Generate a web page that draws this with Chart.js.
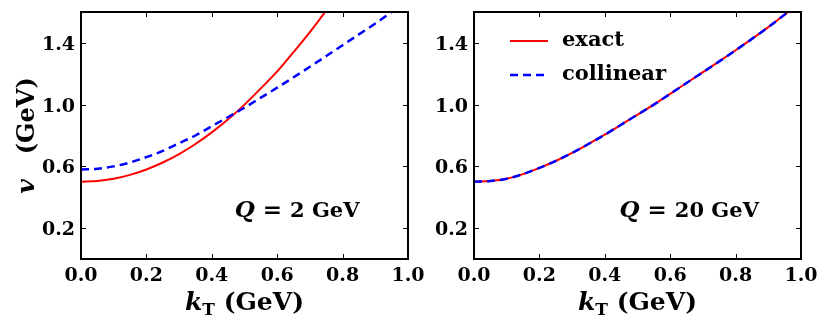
<!DOCTYPE html>
<html>
<head>
<meta charset="utf-8">
<script src="https://cdn.jsdelivr.net/npm/chart.js@4.4.1/dist/chart.umd.min.js"></script>
<style>
  html, body { margin: 0; padding: 0; background: #fff; }
  #wrap { position: relative; width: 830px; height: 332px; overflow: hidden; }
  canvas { position: absolute; top: 0; }
  #left  { left: 0; }
  #right { left: 415px; }
</style>
</head>
<body>
<div id="wrap">
  <canvas id="left" width="440" height="332"></canvas>
  <canvas id="right" width="415" height="332"></canvas>
</div>
<script>
// kT grid (GeV)
const kt = [0.00, 0.05, 0.10, 0.15, 0.20, 0.25, 0.30, 0.35, 0.40, 0.45, 0.50,
            0.55, 0.60, 0.65, 0.70, 0.75, 0.80, 0.85, 0.90, 0.95, 1.00];

// Q = 2 GeV
const exactQ2     = [0.50, 0.505, 0.52, 0.545, 0.58, 0.625, 0.68, 0.745, 0.82, 0.905, 1.00,
                     1.105, 1.215, 1.34, 1.47, 1.61, 1.76];
const collinearQ2 = [0.58, 0.585, 0.60, 0.625, 0.66, 0.70, 0.75, 0.80, 0.86, 0.92, 0.98,
                     1.045, 1.11, 1.177, 1.245, 1.315, 1.385, 1.455, 1.525, 1.60, 1.67];

// Q = 20 GeV
const exactQ20     = [0.50, 0.505, 0.52, 0.55, 0.59, 0.635, 0.687, 0.745, 0.805, 0.87, 0.935,
                      1.00, 1.07, 1.14, 1.21, 1.28, 1.352, 1.426, 1.502, 1.583, 1.665];
const collinearQ20 = [0.50, 0.505, 0.52, 0.55, 0.59, 0.635, 0.687, 0.745, 0.805, 0.87, 0.935,
                      1.00, 1.07, 1.14, 1.21, 1.28, 1.352, 1.426, 1.502, 1.583, 1.665];

const xTicks = [0.0, 0.2, 0.4, 0.6, 0.8, 1.0];
const yTicks = [0.2, 0.6, 1.0, 1.4];

const SERIF = '"DejaVu Serif", "Liberation Serif", serif';

function toPoints(vals) {
  return vals.map((y, i) => ({ x: kt[i], y }));
}

// draws a row of text pieces with different fonts, starting at x
function drawRich(ctx, parts, x, y, align) {
  let total = 0;
  parts.forEach(p => { ctx.font = p.font; total += ctx.measureText(p.text).width; });
  let cx = align === 'center' ? x - total / 2 : x;
  parts.forEach(p => {
    ctx.font = p.font;
    ctx.fillText(p.text, cx, y + (p.dy || 0));
    cx += ctx.measureText(p.text).width;
  });
}

const framePlugin = {
  id: 'frame',
  afterDatasetsDraw(chart, args, opts) {
    const { ctx, chartArea: a, scales: { x, y } } = chart;
    ctx.save();

    // inward ticks on all four sides
    ctx.strokeStyle = '#000';
    ctx.lineWidth = 1;
    ctx.beginPath();
    xTicks.forEach(v => {
      const px = Math.round(x.getPixelForValue(v)) + 0.5;
      ctx.moveTo(px, a.bottom); ctx.lineTo(px, a.bottom - 5);
      ctx.moveTo(px, a.top);    ctx.lineTo(px, a.top + 5);
    });
    yTicks.forEach(v => {
      const py = Math.round(y.getPixelForValue(v)) + 0.5;
      ctx.moveTo(a.left, py);  ctx.lineTo(a.left + 5, py);
      ctx.moveTo(a.right, py); ctx.lineTo(a.right - 5, py);
    });
    ctx.stroke();

    ctx.lineWidth = 2;
    ctx.strokeRect(a.left, a.top, a.right - a.left, a.bottom - a.top);

    // tick labels
    ctx.fillStyle = '#000';
    ctx.textBaseline = 'alphabetic';
    ctx.font = `bold 19px ${SERIF}`;
    ctx.textAlign = 'center';
    xTicks.forEach(v => ctx.fillText(v.toFixed(1), x.getPixelForValue(v), a.bottom + 22));
    ctx.textAlign = 'right';
    yTicks.forEach(v => ctx.fillText(v.toFixed(1), a.left - 6, y.getPixelForValue(v) + 7));
    ctx.textAlign = 'left';

    // Q label
    drawRich(ctx, [
      { text: 'Q', font: `italic bold 23px ${SERIF}` },
      { text: ' = ', font: `bold 23px ${SERIF}` },
      { text: opts.q + ' GeV', font: `bold 21px ${SERIF}` }
    ], x.getPixelForValue(opts.noteX), y.getPixelForValue(0.27), 'left');

    // x axis title
    drawRich(ctx, [
      { text: 'k', font: `italic bold 25px ${SERIF}` },
      { text: 'T', font: `bold 17px ${SERIF}`, dy: 5 },
      { text: ' (GeV)', font: `bold 25px ${SERIF}` }
    ], (a.left + a.right) / 2, 310, 'center');

    // y axis title
    if (opts.yTitle) {
      ctx.save();
      ctx.translate(34, (a.top + a.bottom) / 2);
      ctx.rotate(-Math.PI / 2);
      drawRich(ctx, [
        { text: 'v', font: `italic bold 25px ${SERIF}` },
        { text: '   (GeV)', font: `bold 24px ${SERIF}` }
      ], 0, 0, 'center');
      ctx.restore();
    }

    // legend
    if (opts.legend) {
      const sets = chart.data.datasets.slice().sort((p, q) => q.order - p.order);
      sets.forEach((ds, i) => {
        const ly = a.top + 29 + i * 34;
        const lx = a.left + 36;
        ctx.strokeStyle = ds.borderColor;
        ctx.lineWidth = ds.borderWidth;
        ctx.setLineDash(ds.borderDash || []);
        ctx.beginPath();
        ctx.moveTo(lx, ly); ctx.lineTo(lx + 38, ly);
        ctx.stroke();
        ctx.setLineDash([]);
        ctx.font = `bold 21px ${SERIF}`;
        ctx.fillStyle = '#000';
        ctx.textBaseline = 'middle';
        ctx.fillText(ds.label, lx + 52, ly);
      });
    }
    ctx.restore();
  }
};

function makePanel(id, exactVals, collVals, cfg) {
  const ctx = document.getElementById(id).getContext('2d');

  return new Chart(ctx, {
    type: 'line',
    data: {
      datasets: [
        {
          label: 'exact',
          data: toPoints(exactVals),
          borderColor: '#ff0000',
          borderWidth: 2,
          pointRadius: 0,
          cubicInterpolationMode: 'monotone',
          order: 2
        },
        {
          label: 'collinear',
          data: toPoints(collVals),
          borderColor: '#0000ff',
          borderWidth: 2.5,
          borderDash: [8, 5],
          pointRadius: 0,
          cubicInterpolationMode: 'monotone',
          order: 1
        }
      ]
    },
    options: {
      responsive: false,
      animation: false,
      devicePixelRatio: 1,
      layout: { padding: { top: 12, right: cfg.padRight, left: 0, bottom: 0 } },
      plugins: {
        legend: { display: false },
        tooltip: { enabled: false },
        frame: { q: cfg.q, noteX: cfg.noteX, legend: cfg.legend, yTitle: cfg.yTitle }
      },
      scales: {
        x: {
          type: 'linear',
          min: 0, max: 1,
          grid: { display: false },
          border: { display: false },
          afterBuildTicks: s => { s.ticks = xTicks.map(v => ({ value: v })); },
          afterFit: s => { s.height = 73; },
          ticks: { display: false }
        },
        y: {
          type: 'linear',
          min: 0, max: 1.6,
          grid: { display: false },
          border: { display: false },
          afterBuildTicks: s => { s.ticks = yTicks.map(v => ({ value: v })); },
          afterFit: s => { s.width = cfg.yWidth; },
          ticks: { display: false }
        }
      }
    },
    plugins: [framePlugin]
  });
}

window.addEventListener('DOMContentLoaded', () => {
  makePanel('left', exactQ2, collinearQ2,
    { q: '2', noteX: 0.47, legend: false, yTitle: true, yWidth: 81, padRight: 32 });
  makePanel('right', exactQ20, collinearQ20,
    { q: '20', noteX: 0.445, legend: true, yTitle: false, yWidth: 59, padRight: 29 });
});
</script>
</body>
</html>
